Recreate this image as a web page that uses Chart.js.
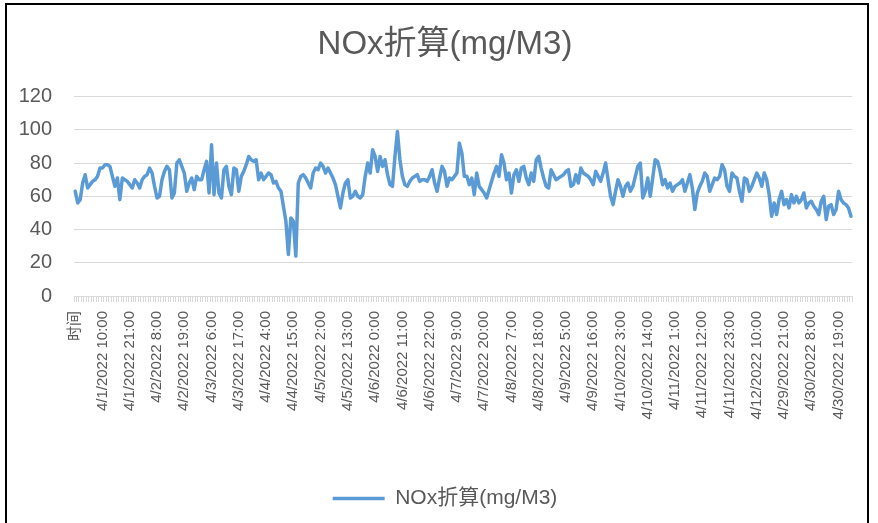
<!DOCTYPE html>
<html>
<head>
<meta charset="utf-8">
<script src="https://cdn.jsdelivr.net/npm/chart.js@4.4.1/dist/chart.umd.min.js"></script>
<style>
    html, body { margin: 0; padding: 0; background: #fff; }
    #wrap { position: relative; width: 878px; height: 523px; }
    #frame {
        position: absolute; left: 5px; top: 3px; width: 864px; height: 520px;
        border: 2px solid #000; border-bottom: none; box-sizing: border-box; pointer-events: none;
    }
    canvas { position: absolute; left: 0; top: 0; }
</style>
</head>
<body>
<div id="wrap">
    <canvas id="noxChart" width="878" height="523"></canvas>
    <div id="frame"></div>
</div>
<script>
const TITLE = "NOx折算(mg/M3)";
const HEADER_LABEL = "时间";

// hourly segments of the time column: [year, month, day, hour, count]
const segments = [
    [2022, 4, 1, 0, 280],
    [2022, 4, 29, 16, 33]
];

const noxValues = [
    63, 56, 58, 68, 73, 65, 67, 69, 70, 72, 77, 77, 79, 79, 78, 72, 66, 71, 58, 71,
    70, 69, 67, 65, 70, 68, 65, 70, 72, 73, 77, 74, 66, 59, 60, 70, 75, 78,
    76, 59, 62, 80, 82, 78, 74, 63, 68, 71, 64, 72, 70, 70, 76, 81, 62, 91, 61, 80,
    62, 59, 76, 78, 66, 61, 77, 76, 63, 72, 75, 79, 84, 82, 81, 82, 70, 74, 70, 72,
    74, 73, 68, 69, 65, 63, 54, 45, 25, 47, 45, 24, 68, 72, 73, 71, 68, 65, 74, 77,
    76, 80, 78, 74, 77, 74, 71, 67, 60, 53, 62, 68, 70, 59, 60, 63, 60, 59, 61, 72,
    80, 74, 88, 84, 75, 84, 78, 82, 73, 67, 66, 84, 99, 82, 72, 67, 66, 69, 71, 72,
    73, 69, 70, 70, 69, 72, 76, 68, 63, 71, 78, 75, 66, 71, 70, 72, 74, 92, 86, 72,
    72, 67, 71, 61, 74, 66, 64, 62, 59, 64, 69, 74, 78, 72, 85, 80, 70, 74, 62, 73,
    76, 69, 77, 78, 71, 67, 74, 69, 82, 84, 77, 71, 66, 65, 76, 73, 70, 71, 72, 73,
    75, 76, 66, 67, 73, 68, 77, 74, 73, 72, 70, 67, 75, 72, 69, 74, 80, 70, 60, 55,
    63, 70, 66, 60, 66, 68, 63, 66, 72, 78, 80, 59, 63, 71, 60, 71, 82, 81, 75, 67,
    70, 65, 68, 63, 66, 67, 68, 70, 63, 68, 73, 65, 52, 62, 66, 69, 74, 72, 63, 67,
    71, 70, 72, 79, 76, 66, 63, 74, 72, 71, 63, 57, 71, 70, 63, 66, 70, 74, 71, 66,
    74, 70, 61, 48, 56, 49, 58, 63, 55, 58, 53, 61, 56, 60, 56, 58, 62, 53, 56, 57,
    54, 52, 49, 57, 60, 46, 54, 55, 49, 52, 63, 58, 56, 55, 53, 48
];

const yTicks = [0, 20, 40, 60, 80, 100, 120];
const LABEL_EVERY = 11;

const FONT = "'Liberation Sans', 'Noto Sans CJK SC', sans-serif";
const TEXT_COLOR = "#595959";
const GRID_COLOR = "#d9d9d9";
const LINE_COLOR = "#5b9bd5";

function buildCategories() {
    const cats = [HEADER_LABEL];
    segments.forEach(([y, m, d, h, count]) => {
        const start = Date.UTC(y, m - 1, d, h);
        for (let k = 0; k < count; k++) {
            const t = new Date(start + k * 3600000);
            cats.push(`${t.getUTCMonth() + 1}/${t.getUTCDate()}/${t.getUTCFullYear()} ${t.getUTCHours()}:00`);
        }
    });
    return cats;
}

const categories = buildCategories();

// title and legend sit centred on the whole frame, not on the plot area
const centreBlocks = {
    id: "centreBlocks",
    afterLayout(chart) {
        if (chart.titleBlock) chart.titleBlock.left += 30;
        if (chart.legend) chart.legend.left += 30;
    }
};

new Chart(document.getElementById("noxChart"), {
    type: "line",
    data: {
        labels: categories,
        datasets: [{
            label: TITLE,
            data: noxValues,
            borderColor: LINE_COLOR,
            backgroundColor: LINE_COLOR,
            borderWidth: 3.5,
            borderJoinStyle: "round",
            borderCapStyle: "round",
            pointRadius: 0,
            tension: 0,
            fill: false
        }]
    },
    plugins: [centreBlocks],
    options: {
        responsive: false,
        animation: false,
        layout: { padding: { top: 4, left: 0, right: 18, bottom: 4 } },
        plugins: {
            title: {
                display: true,
                text: TITLE,
                color: TEXT_COLOR,
                font: { family: FONT, size: 33, weight: "normal" },
                padding: { top: 21, bottom: 32 }
            },
            legend: {
                position: "bottom",
                labels: {
                    usePointStyle: true,
                    pointStyle: "line",
                    pointStyleWidth: 52,
                    color: TEXT_COLOR,
                    font: { family: FONT, size: 21 },
                    padding: 15
                }
            },
            tooltip: { enabled: false }
        },
        scales: {
            x: {
                offset: true,
                grid: {
                    drawOnChartArea: false,
                    drawTicks: true,
                    tickLength: 6,
                    color: GRID_COLOR,
                    offset: true
                },
                border: { color: GRID_COLOR },
                ticks: {
                    autoSkip: false,
                    minRotation: 90,
                    maxRotation: 90,
                    padding: 9,
                    color: TEXT_COLOR,
                    font: { family: FONT, size: 15 },
                    callback: (v, i) => (i % LABEL_EVERY === 0 ? categories[i] : "")
                },
                afterFit: (scale) => { scale.height = 177; }
            },
            y: {
                min: yTicks[0],
                max: yTicks[yTicks.length - 1],
                ticks: {
                    stepSize: yTicks[1] - yTicks[0],
                    padding: 22,
                    color: TEXT_COLOR,
                    font: { family: FONT, size: 20 }
                },
                grid: { color: GRID_COLOR, drawTicks: false },
                border: { display: false },
                afterFit: (scale) => { scale.width = 74; }
            }
        }
    }
});
</script>
</body>
</html>
